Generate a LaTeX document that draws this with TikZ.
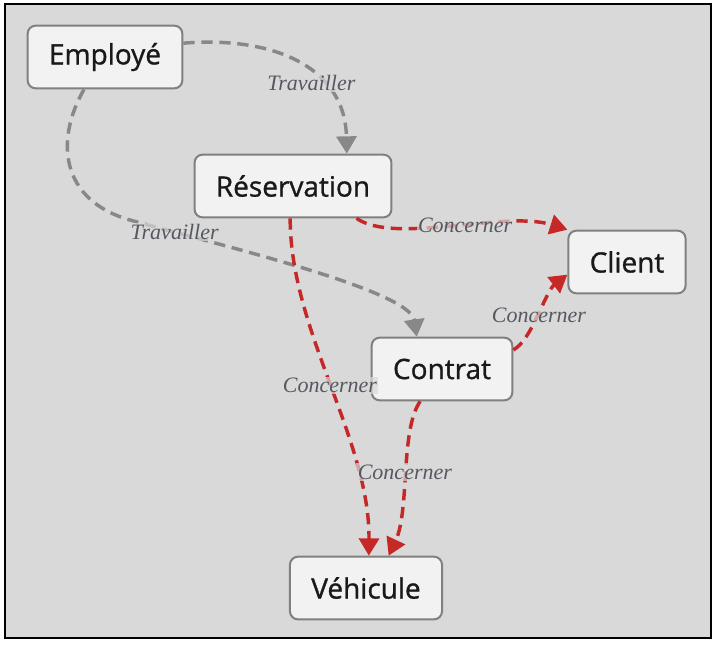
\documentclass[tikz,border=0pt]{standalone}
\usepackage{fontspec}
\setmainfont{Liberation Serif}
\newfontfamily\boxfont[FakeBold=1]{Open Sans}
\usetikzlibrary{arrows.meta}
\definecolor{bgcol}{RGB}{217,217,217}
\definecolor{boxfill}{RGB}{242,242,242}
\definecolor{boxline}{RGB}{128,128,128}
\definecolor{relred}{RGB}{198,40,40}
\definecolor{relgray}{RGB}{136,136,136}
\definecolor{lbltext}{RGB}{85,88,96}

\begin{document}
\begin{tikzpicture}[x=0.75pt, y=-0.75pt,
    box/.style={draw=boxline, fill=boxfill, line width=1.5pt, rounded corners=6pt,
                minimum height=47pt, inner xsep=16pt, text=black!90,
                font=\boxfont\fontsize{21}{25}\selectfont},
    rel/.style={line width=2.6pt, dash pattern=on 8.5pt off 5pt,
                -{Triangle[length=13pt, width=15pt]}},
    lbl/.style={font=\itshape\fontsize{16.5}{19}\selectfont, text=lbltext,
                fill=bgcol, fill opacity=0.7, text opacity=1, inner sep=1pt}]
    \useasboundingbox (0,0) rectangle (717,644);
    \draw[fill=bgcol, line width=1.5pt] (5,4) rectangle (711,638);

    % nodes: emp res cli con veh
    \node[box] (emp) at (105, 57) {Employé};
    \node[box] (res) at (293, 186) {Réservation};
    \node[box] (cli) at (627, 262) {Client};
    \node[box] (con) at (442, 369) {Contrat};
    \node[box] (veh) at (366, 588) {Véhicule};

    % edges: emp-res, emp-con
    \draw[rel, relgray] (emp.10) .. controls (270,36) and (345,65) .. (res.31)
        node[lbl, pos=0.66, xshift=-8pt] {Travailler};
    \draw[rel, relgray] (emp.-123) .. controls (55,140) and (60,200) .. (130,220)
        .. controls (215,244) and (410,290) .. (con.128)
        node[lbl, pos=0.15] {Travailler};
    % edges: res-cli, con-cli
    \draw[rel, relred] (res.-27) .. controls (395,245) and (505,210) .. (cli.north west)
        node[lbl, pos=0.55] {Concerner};
    \draw[rel, relred] (con.15) .. controls (532,340) and (545,292) .. (cli.192)
        node[lbl, pos=0.5] {Concerner};
    % edges: res-veh, con-veh
    \draw[rel, relred] (res.-95) .. controls (290,330) and (370,440) .. (veh.85)
        node[lbl, pos=0.5] {Concerner};
    \draw[rel, relred] (con.-124) .. controls (400,430) and (410,510) .. (veh.55)
        node[lbl, pos=0.5] {Concerner};
\end{tikzpicture}
\end{document}
